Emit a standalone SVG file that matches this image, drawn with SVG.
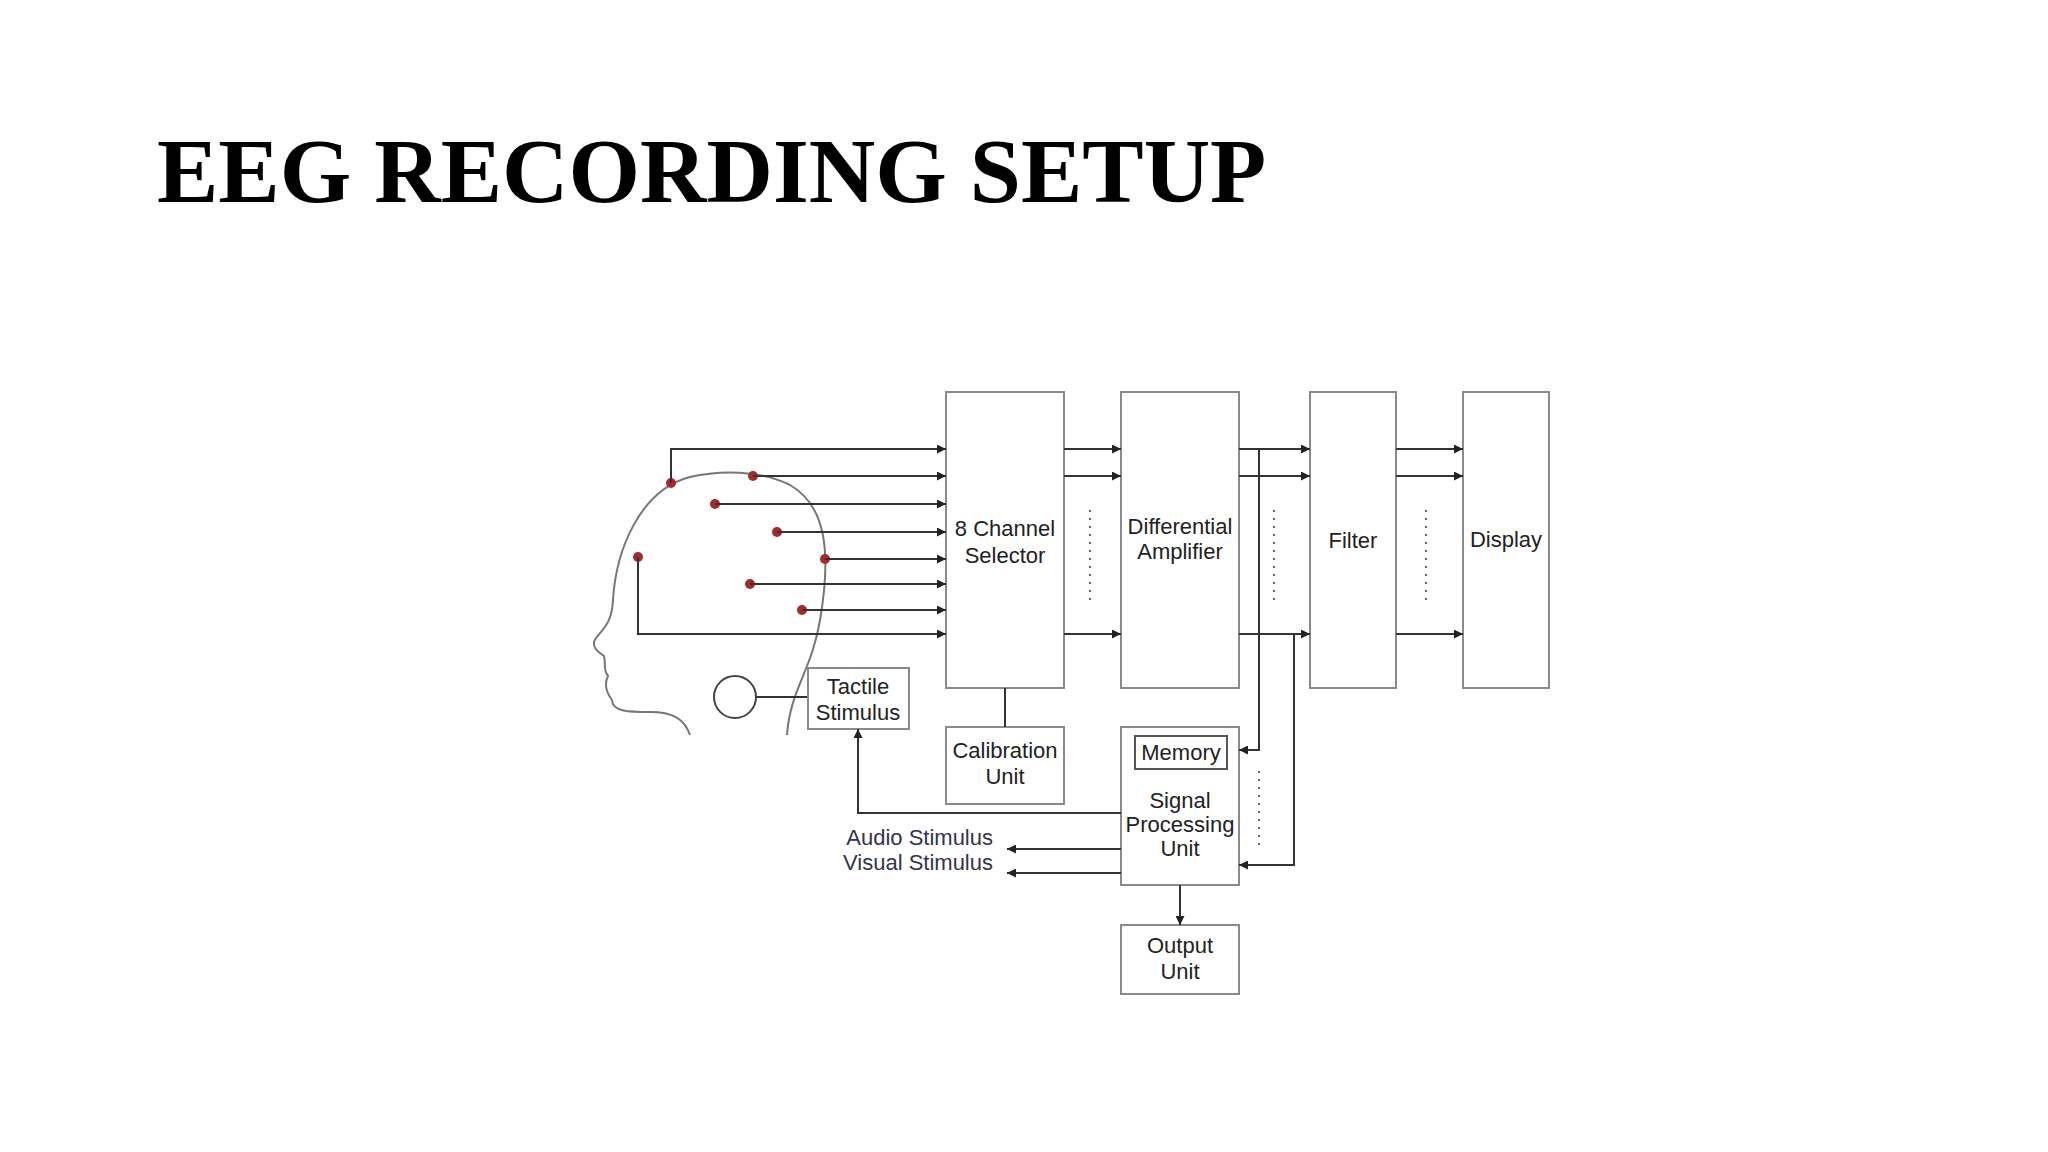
<svg xmlns="http://www.w3.org/2000/svg" width="2048" height="1152" viewBox="0 0 2048 1152">
<defs>
<style>
.box{fill:#fff;stroke:#8a8a8a;stroke-width:2}
.ln{fill:none;stroke:#333;stroke-width:2}
.dot{fill:none;stroke:#666;stroke-width:2;stroke-dasharray:2 6}
.t{font-family:"Liberation Sans",Arial,sans-serif;font-size:22px;fill:#222;text-anchor:middle}
.s{font-family:"Liberation Sans",Arial,sans-serif;font-size:22px;fill:#33334d;text-anchor:end}
.e{fill:#a52a2a}
</style>
<marker id="ah" viewBox="0 0 10 10" refX="10" refY="5" markerWidth="9" markerHeight="9" markerUnits="userSpaceOnUse" orient="auto"><path d="M0,0 L10,5 L0,10 z" fill="#222"/></marker>
</defs>
<rect width="2048" height="1152" fill="#fff"/>
<text x="157" y="202" font-family="'Liberation Serif','Times New Roman',serif" font-weight="bold" font-size="92" fill="#000">EEG RECORDING SETUP</text>
<g id="head">
<path class="ln" style="stroke:#777" d="M690,735 C684,718 672,712 650,712 C630,712 612,712 612,700 C606,692 604,684 608,676 C603,670 606,664 604,656 C598,652 590,646 596,638 C604,628 612,622 613,600 C616,550 640,490 690,477 C720,470 760,470 790,485 C825,505 832,550 820,620 C812,670 790,690 787,735"/>
<circle cx="735" cy="697" r="21" class="ln" style="stroke:#444"/>
<line class="ln" x1="756" y1="697" x2="808" y2="697"/>
<circle class="e" cx="671" cy="483" r="5"/><circle class="e" cx="753" cy="476" r="5"/>
<circle class="e" cx="715" cy="504" r="5"/><circle class="e" cx="777" cy="532" r="5"/>
<circle class="e" cx="825" cy="559" r="5"/><circle class="e" cx="750" cy="584" r="5"/>
<circle class="e" cx="802" cy="610" r="5"/><circle class="e" cx="638" cy="557" r="5"/>
</g>
<g id="selector"><rect class="box" x="946" y="392" width="118" height="296"/><text class="t" x="1005" y="536">8 Channel</text><text class="t" x="1005" y="563">Selector</text></g>
<g id="amplifier"><rect class="box" x="1121" y="392" width="118" height="296"/><text class="t" x="1180" y="534">Differential</text><text class="t" x="1180" y="559">Amplifier</text></g>
<g id="filter"><rect class="box" x="1310" y="392" width="86" height="296"/><text class="t" x="1353" y="548">Filter</text></g>
<g id="display"><rect class="box" x="1463" y="392" width="86" height="296"/><text class="t" x="1506" y="547">Display</text></g>
<g id="tactile"><rect class="box" x="808" y="668" width="101" height="61"/><text class="t" x="858" y="694">Tactile</text><text class="t" x="858" y="720">Stimulus</text></g>
<g id="calibration"><rect class="box" x="946" y="727" width="118" height="77"/><text class="t" x="1005" y="758">Calibration</text><text class="t" x="1005" y="784">Unit</text></g>
<g id="spu"><rect class="box" x="1121" y="727" width="118" height="158"/><rect class="box" style="stroke:#555" x="1135" y="736" width="92" height="33"/><text class="t" x="1181" y="760">Memory</text><text class="t" x="1180" y="808">Signal</text><text class="t" x="1180" y="832">Processing</text><text class="t" x="1180" y="856">Unit</text></g>
<g id="output"><rect class="box" x="1121" y="925" width="118" height="69"/><text class="t" x="1180" y="953">Output</text><text class="t" x="1180" y="979">Unit</text></g>
<g id="stimuli"><text class="s" x="993" y="845">Audio Stimulus</text><text class="s" x="993" y="870">Visual Stimulus</text></g>
<g id="connectors">
<path class="ln" marker-end="url(#ah)" d="M671,483 V449 H946"/>
<path class="ln" marker-end="url(#ah)" d="M753,476 H946"/>
<path class="ln" marker-end="url(#ah)" d="M715,504 H946"/>
<path class="ln" marker-end="url(#ah)" d="M777,532 H946"/>
<path class="ln" marker-end="url(#ah)" d="M825,559 H946"/>
<path class="ln" marker-end="url(#ah)" d="M750,584 H946"/>
<path class="ln" marker-end="url(#ah)" d="M802,610 H946"/>
<path class="ln" marker-end="url(#ah)" d="M638,557 V634 H946"/>
<path class="ln" marker-end="url(#ah)" d="M1064,449 H1121"/>
<path class="ln" marker-end="url(#ah)" d="M1064,476 H1121"/>
<path class="ln" marker-end="url(#ah)" d="M1064,634 H1121"/>
<path class="ln" marker-end="url(#ah)" d="M1239,449 H1310"/>
<path class="ln" marker-end="url(#ah)" d="M1239,476 H1310"/>
<path class="ln" marker-end="url(#ah)" d="M1239,634 H1310"/>
<path class="ln" marker-end="url(#ah)" d="M1396,449 H1463"/>
<path class="ln" marker-end="url(#ah)" d="M1396,476 H1463"/>
<path class="ln" marker-end="url(#ah)" d="M1396,634 H1463"/>
<path class="ln" marker-end="url(#ah)" d="M1259,449 V750 H1239"/>
<path class="ln" marker-end="url(#ah)" d="M1294,634 V865 H1239"/>
<path class="ln" d="M1005,688 V727"/>
<path class="ln" marker-end="url(#ah)" d="M1121,813 H858 V729"/>
<path class="ln" marker-end="url(#ah)" d="M1121,849 H1007"/>
<path class="ln" marker-end="url(#ah)" d="M1121,873 H1007"/>
<path class="ln" marker-end="url(#ah)" d="M1180,885 V925"/>
<line class="dot" x1="1090" y1="510" x2="1090" y2="602"/>
<line class="dot" x1="1274" y1="510" x2="1274" y2="602"/>
<line class="dot" x1="1426" y1="510" x2="1426" y2="602"/>
<line class="dot" x1="1259" y1="771" x2="1259" y2="846"/>
</g>
</svg>
